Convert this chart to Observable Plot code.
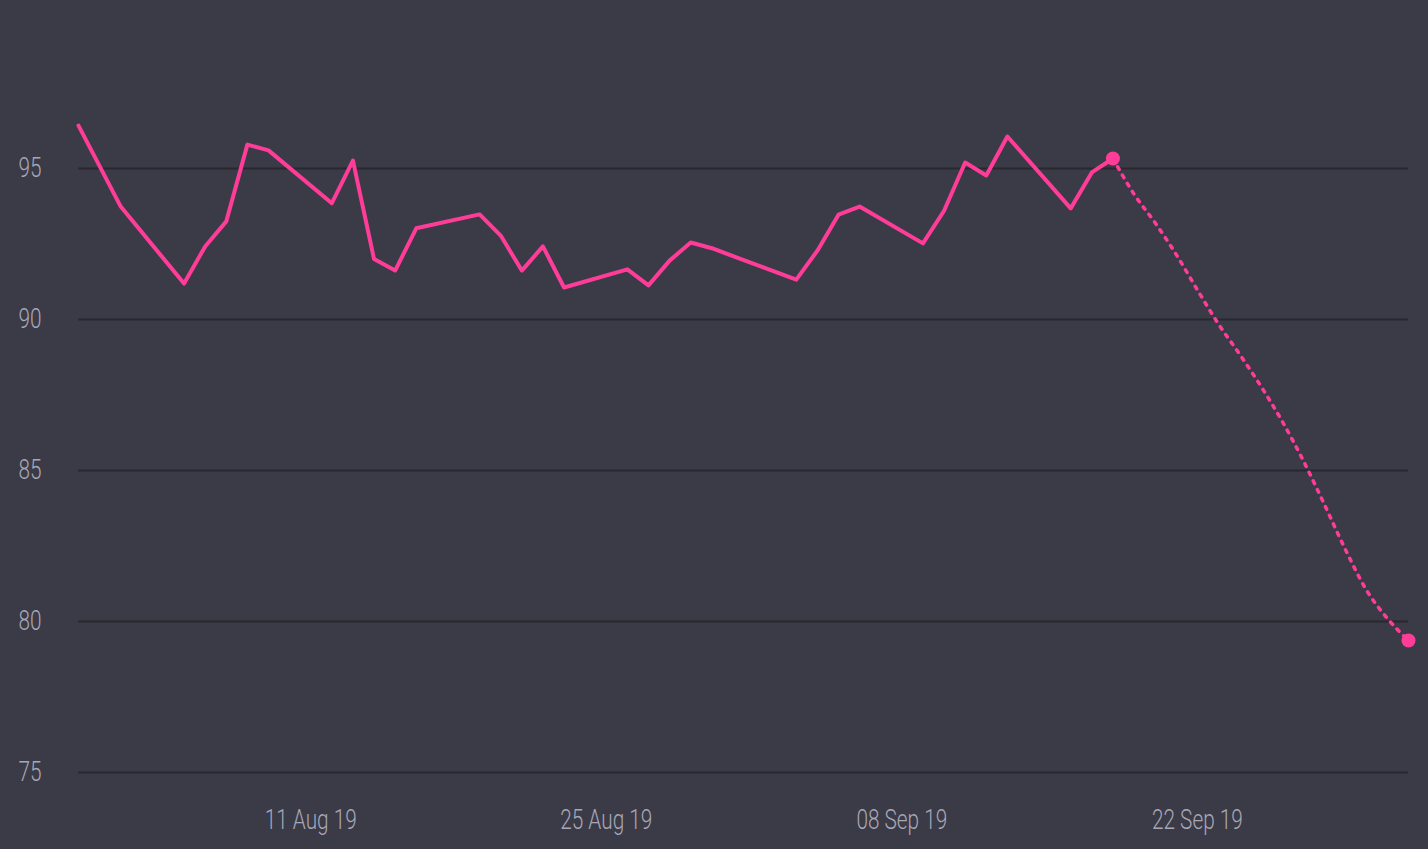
<!DOCTYPE html>
<html>
<head>
<meta charset="utf-8">
<script src="https://cdn.jsdelivr.net/npm/d3@7"></script>
<script src="https://cdn.jsdelivr.net/npm/@observablehq/plot@0.6"></script>
<style>
  html, body { margin: 0; padding: 0; background: #3b3a47; overflow: hidden; }
  svg text { font-family: Roboto, "Noto Sans", sans-serif; font-weight: 300; }
</style>
</head>
<body>
<div id="chart"></div>
<script>
const actualDates = [
  "2019-07-31","2019-08-02","2019-08-05","2019-08-06","2019-08-07","2019-08-08","2019-08-09",
  "2019-08-12","2019-08-13","2019-08-14","2019-08-15","2019-08-16",
  "2019-08-19","2019-08-20","2019-08-21","2019-08-22","2019-08-23",
  "2019-08-26","2019-08-27","2019-08-28","2019-08-29","2019-08-30",
  "2019-09-03","2019-09-04","2019-09-05","2019-09-06",
  "2019-09-09","2019-09-10","2019-09-11","2019-09-12","2019-09-13",
  "2019-09-16","2019-09-17","2019-09-18"
];
const actualValues = [
  96.42, 93.74, 91.19, 92.42, 93.25, 95.79, 95.6,
  93.85, 95.26, 92.0, 91.62, 93.02,
  93.48, 92.78, 91.62, 92.42, 91.06,
  91.66, 91.13, 91.95, 92.55, 92.36,
  91.32, 92.28, 93.47, 93.74,
  92.52, 93.6, 95.2, 94.77, 96.06,
  93.68, 94.87, 95.33
];
const forecastDates = [
  "2019-09-18","2019-09-19","2019-09-20","2019-09-21","2019-09-22","2019-09-23","2019-09-24",
  "2019-09-25","2019-09-26","2019-09-27","2019-09-28","2019-09-29","2019-09-30",
  "2019-10-01","2019-10-02"
];
const forecastValues = [
  95.33, 94.15, 93.2, 92.15, 90.98, 89.85, 88.85,
  87.8, 86.65, 85.35, 83.9, 82.4, 81.05,
  80.1, 79.37
];
const yTicks = [75, 80, 85, 90, 95];
const xTickDates = ["2019-08-11", "2019-08-25", "2019-09-08", "2019-09-22"];
const xDomain = ["2019-07-31", "2019-10-02"];
const yDomain = [75, 100];

const pink = "#ff3d98";
const parse = d3.utcParse("%Y-%m-%d");
const actual = actualDates.map((d, i) => ({date: parse(d), value: actualValues[i]}));
const forecast = forecastDates.map((d, i) => ({date: parse(d), value: forecastValues[i]}));
const endpoints = [actual[actual.length - 1], forecast[forecast.length - 1]];

const chart = Plot.plot({
  width: 1428,
  height: 849,
  marginLeft: 78,
  marginRight: 20,
  marginTop: 17,
  marginBottom: 77,
  style: {
    background: "#3b3a47",
    color: "#a8a7b6",
    fontSize: "27px"
  },
  x: {type: "utc", domain: xDomain.map(parse)},
  y: {domain: yDomain},
  marks: [
    Plot.gridY(yTicks, {stroke: "#29282f", strokeOpacity: 1, strokeWidth: 2}),
    Plot.axisY(yTicks, {tickSize: 0, tickPadding: 37, label: null, fill: "#a8a7b6"}),
    Plot.axisX(xTickDates.map(parse), {tickSize: 0, tickPadding: 37, label: null, tickFormat: d3.utcFormat("%d %b %y"), fill: "#a8a7b6"}),
    Plot.line(forecast, {x: "date", y: "value", stroke: pink, strokeWidth: 3.5, strokeDasharray: "3,6.5", curve: "monotone-x"}),
    Plot.line(actual, {x: "date", y: "value", stroke: pink, strokeWidth: 4}),
    Plot.dot(endpoints, {x: "date", y: "value", r: 7, fill: pink, stroke: "none"})
  ]
});
document.getElementById("chart").append(chart);

// condense the text glyphs (the reference uses a condensed face)
const squeeze = 0.77;
chart.querySelectorAll("text").forEach(t => {
  const w = t.getComputedTextLength();
  if (w > 0) {
    t.setAttribute("textLength", (w * squeeze).toFixed(2));
    t.setAttribute("lengthAdjust", "spacingAndGlyphs");
  }
});
</script>
</body>
</html>
